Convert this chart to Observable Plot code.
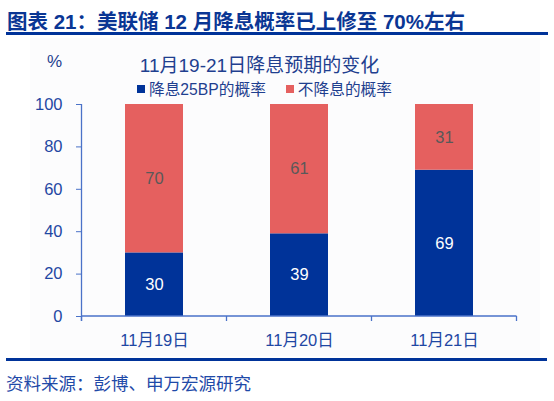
<!DOCTYPE html>
<html>
<head>
<meta charset="utf-8">
<script src="https://cdn.jsdelivr.net/npm/d3@7"></script>
<script src="https://cdn.jsdelivr.net/npm/@observablehq/plot@0.6"></script>
<style>
  html, body { margin: 0; padding: 0; background: #ffffff; }
  body { font-family: "Liberation Sans", Arial, "Noto Sans CJK SC", sans-serif; }
  #wrap { position: relative; width: 554px; height: 401px; overflow: hidden; }
  #bg { position: absolute; left: 30px; top: 38px; width: 510px; height: 318px; background: #fcfcfd; }
  #title { position: absolute; left: 7px; top: 5px; font-size: 20.5px; font-weight: bold; color: #0a3694; white-space: nowrap; }
  #rule1 { position: absolute; left: 6px; top: 32px; width: 542px; height: 3px; background: #003399; }
  #rule2 { position: absolute; left: 6px; top: 358px; width: 541px; height: 3px; background: #003399; }
  #caption { position: absolute; left: 6px; top: 370px; font-size: 17.5px; color: #1f4aa8; white-space: nowrap; }
  #subtitle { position: absolute; left: 0; width: 519px; text-align: center; top: 50px; font-size: 19px; color: #1f3f8f; white-space: nowrap; }
  #pct { position: absolute; left: 47px; top: 52px; font-size: 17px; color: #1f3f8f; }
  #legend { position: absolute; left: 137px; top: 77px; display: flex; align-items: center; font-size: 15.7px; color: #1f3f8f; white-space: nowrap; }
  .sw { display: inline-block; width: 8px; height: 8px; margin-right: 4px; }
  .item { display: flex; align-items: center; margin-right: 20px; }
  #chart { position: absolute; left: 0; top: 0; }
</style>
</head>
<body>
<div id="wrap">
  <div id="bg"></div>
  <div id="title"></div>
  <div id="rule1"></div>
  <div id="subtitle"></div>
  <div id="pct">%</div>
  <div id="legend"></div>
  <div id="chart"></div>
  <div id="rule2"></div>
  <div id="caption"></div>
</div>
<script>
const titleText = "图表 21：美联储 12 月降息概率已上修至 70%左右";
const subtitleText = "11月19-21日降息预期的变化";
const captionText = "资料来源：彭博、申万宏源研究";
const dates = ["11月19日", "11月20日", "11月21日"];
const series = ["降息25BP的概率", "不降息的概率"];
const cutProb = [30, 39, 69];
const noCutProb = [70, 61, 31];
const yTicks = [0, 20, 40, 60, 80, 100];
const colors = ["#003399", "#e5605f"];

document.getElementById("title").textContent = titleText;
document.getElementById("subtitle").textContent = subtitleText;
document.getElementById("caption").textContent = captionText;
const legend = document.getElementById("legend");
series.forEach((s, i) => {
  const it = document.createElement("span");
  it.className = "item";
  const sw = document.createElement("span");
  sw.className = "sw";
  sw.style.background = colors[i];
  it.appendChild(sw);
  it.appendChild(document.createTextNode(s));
  legend.appendChild(it);
});

const data = dates.flatMap((d, i) => [
  {date: d, s: series[0], v: cutProb[i]},
  {date: d, s: series[1], v: noCutProb[i]}
]);

const axisColor = "#4a72c8";
const labelColor = "#1f47a3";

function axisLines(index, scales, values, dim) {
  const x = scales.x, y = scales.y;
  const g = d3.create("svg:g").attr("stroke", axisColor).attr("fill", "none").attr("stroke-width", 1.3);
  const step = x.step();
  const pad = (step - x.bandwidth()) / 2;
  const x0 = x(dates[0]) - pad;
  const x1 = x(dates[dates.length - 1]) + x.bandwidth() + pad;
  const y0 = y(0), yTop = y(100);
  g.append("line").attr("x1", x0).attr("x2", x0).attr("y1", yTop).attr("y2", y0 + 5);
  g.append("line").attr("x1", x0).attr("x2", x1).attr("y1", y0).attr("y2", y0);
  for (let i = 0; i <= dates.length; i++) {
    const xx = x0 + i * step;
    g.append("line").attr("x1", xx).attr("x2", xx).attr("y1", y0).attr("y2", y0 + 5);
  }
  return g.node();
}

const plot = Plot.plot({
  width: 554,
  height: 401,
  marginLeft: 81,
  marginRight: 37,
  marginTop: 104,
  marginBottom: 85,
  style: {background: "transparent", fontFamily: "'Liberation Sans', Arial, 'Noto Sans CJK SC', sans-serif"},
  x: {domain: dates, paddingInner: 0.6, paddingOuter: 0.3, label: null},
  y: {domain: [0, 100], label: null},
  color: {domain: series, range: colors},
  marks: [
    Plot.barY(data, {x: "date", y: "v", fill: "s"}),
    Plot.text(data, Plot.stackY({x: "date", y: "v", text: d => d.s === series[0] ? d.v : null, fill: "white", fontSize: 16.5})),
    Plot.text(data, Plot.stackY({x: "date", y: "v", text: d => d.s === series[1] ? d.v : null, fill: "#595959", fontSize: 16.5})),
    Plot.axisY({ticks: yTicks, tickSize: 5, tickPadding: 14, stroke: axisColor, fill: labelColor, fontSize: 16.5, label: null}),
    Plot.axisX({tickSize: 0, tickPadding: 18, fill: labelColor, fontSize: 16.5, label: null}),
    axisLines
  ]
});
document.getElementById("chart").appendChild(plot);
</script>
</body>
</html>
